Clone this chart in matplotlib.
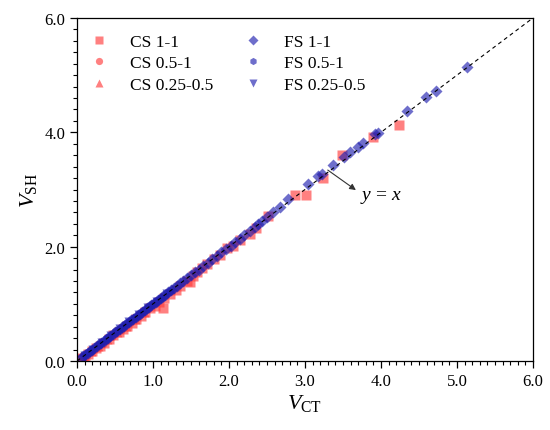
import numpy as np
import matplotlib.pyplot as plt
from matplotlib.ticker import MultipleLocator

plt.rcParams["font.family"] = "Liberation Serif"
plt.rcParams["mathtext.fontset"] = "custom"
plt.rcParams["mathtext.rm"] = "Liberation Serif"
plt.rcParams["mathtext.it"] = "Liberation Serif:italic"

# CS 1-1 (red squares)
cs11_x = [0.03, 0.07, 0.10, 0.15, 0.20, 0.25, 0.30, 0.36, 0.42, 0.48, 0.55, 0.60,
          0.66, 0.72, 0.78, 0.84, 0.90, 0.96, 1.02, 1.08, 1.13, 1.15, 1.22, 1.30,
          1.36, 1.45, 1.49, 1.52, 1.58, 1.64, 1.71, 1.80, 1.88, 1.97, 2.05, 2.15,
          2.28, 2.35, 2.51, 2.87, 3.02, 3.24, 3.49, 3.89, 4.24]
cs11_y = [0.05, 0.04, 0.07, 0.12, 0.17, 0.22, 0.27, 0.32, 0.38, 0.45, 0.50, 0.56,
          0.61, 0.66, 0.73, 0.79, 0.85, 0.92, 0.97, 1.03, 0.92, 1.10, 1.18, 1.25,
          1.32, 1.40, 1.38, 1.49, 1.55, 1.62, 1.70, 1.78, 1.85, 1.98, 2.02, 2.11,
          2.22, 2.33, 2.54, 2.90, 2.90, 3.20, 3.60, 3.92, 4.13]

# CS 0.5-1 (red circles) and CS 0.25-0.5 (red triangles)
cs05_x = [0.12, 0.22, 0.34, 0.46, 0.58, 0.70, 0.82, 0.94]
cs05_y = [0.11, 0.21, 0.32, 0.44, 0.56, 0.68, 0.80, 0.92]
cs025_x = [0.09, 0.18, 0.28, 0.40, 0.52, 0.64, 0.76, 0.88]
cs025_y = [0.08, 0.17, 0.27, 0.38, 0.50, 0.62, 0.74, 0.86]

# FS 1-1 (blue diamonds)
fs11_x = [0.05, 0.08, 0.11, 0.14, 0.17, 0.20, 0.23, 0.26, 0.29, 0.32, 0.35, 0.38,
          0.41, 0.44, 0.47, 0.50, 0.53, 0.56, 0.59, 0.62, 0.65, 0.68, 0.71, 0.74,
          0.77, 0.80, 0.83, 0.86, 0.89, 0.92, 0.95, 0.98, 1.01, 1.04, 1.07, 1.10,
          1.13, 1.16, 1.20, 1.24, 1.28, 1.32, 1.36, 1.40, 1.45, 1.50, 1.55, 1.60,
          1.66, 1.72, 1.78, 1.84, 1.90, 1.96, 2.02, 2.08, 2.14, 2.20, 2.27, 2.34,
          2.38, 2.44, 2.50, 2.58, 2.67, 2.78, 3.04, 3.17, 3.22, 3.37, 3.52, 3.59,
          3.70, 3.76, 3.92, 3.96, 4.34, 4.59, 4.72, 5.13]
fs11_y = [0.06, 0.08, 0.11, 0.14, 0.17, 0.20, 0.23, 0.26, 0.29, 0.32, 0.35, 0.38,
          0.41, 0.44, 0.47, 0.50, 0.53, 0.56, 0.59, 0.62, 0.65, 0.68, 0.71, 0.74,
          0.77, 0.80, 0.83, 0.86, 0.89, 0.92, 0.95, 0.98, 1.01, 1.04, 1.07, 1.10,
          1.13, 1.16, 1.20, 1.24, 1.28, 1.32, 1.36, 1.40, 1.45, 1.50, 1.55, 1.60,
          1.66, 1.72, 1.78, 1.84, 1.90, 1.96, 2.02, 2.08, 2.14, 2.20, 2.27, 2.34,
          2.40, 2.45, 2.52, 2.60, 2.69, 2.83, 3.09, 3.23, 3.27, 3.43, 3.56, 3.65,
          3.74, 3.81, 3.97, 3.99, 4.37, 4.61, 4.72, 5.14]

# FS 0.5-1 (blue hexagons) and FS 0.25-0.5 (blue down triangles)
fs05_x = [0.15, 0.27, 0.39, 0.51, 0.63, 0.75, 0.87, 0.99, 1.10, 1.22]
fs05_y = [0.16, 0.28, 0.40, 0.52, 0.64, 0.76, 0.88, 1.00, 1.11, 1.23]
fs025_x = [0.10, 0.21, 0.33, 0.45, 0.57, 0.69, 0.81, 0.93, 1.05, 1.18]
fs025_y = [0.09, 0.20, 0.32, 0.44, 0.56, 0.68, 0.80, 0.92, 1.04, 1.17]

red = "#ff3c3c"
blue = "#2020b0"

fig = plt.figure(figsize=(5.5, 4.31), dpi=100)
ax = fig.add_axes([0.14, 0.16, 0.829, 0.796])

kw = dict(ls="none", ms=6.5, alpha=0.65, mec="none", zorder=2)
ax.plot(cs11_x, cs11_y, "s", color=red, label="CS 1-1", **kw)
ax.plot(cs05_x, cs05_y, "o", color=red, label="CS 0.5-1", **kw)
ax.plot(cs025_x, cs025_y, "^", color=red, label="CS 0.25-0.5", **kw)
ax.plot(fs11_x, fs11_y, "D", color=blue, label="FS 1-1", **dict(kw, ms=6))
ax.plot(fs05_x, fs05_y, "h", color=blue, label="FS 0.5-1", **kw)
ax.plot(fs025_x, fs025_y, "v", color=blue, label="FS 0.25-0.5", **kw)

# y = x reference line, drawn above the markers
ax.plot([0, 6], [0, 6], ls=(0, (3.5, 3)), color="black", lw=0.8, zorder=3)

ax.annotate("", xy=(3.67, 2.99), xytext=(3.30, 3.34),
            arrowprops=dict(arrowstyle="-|>", color="#333333", lw=0.8,
                            shrinkA=0, shrinkB=0, mutation_scale=9))
ax.text(3.72, 2.87, r"$y\,=\,x$", fontsize=14, va="center", ha="left")

ax.set_xlim(0, 6)
ax.set_ylim(0, 6)
ax.xaxis.set_major_locator(MultipleLocator(1.0))
ax.xaxis.set_minor_locator(MultipleLocator(0.1))
ax.yaxis.set_major_locator(MultipleLocator(2.0))
ax.yaxis.set_minor_locator(MultipleLocator(0.2))
ax.xaxis.set_major_formatter(lambda v, p: f"{v:.1f}")
ax.yaxis.set_major_formatter(lambda v, p: f"{v:.1f}")
ax.tick_params(which="major", direction="out", length=5, width=0.9, labelsize=12)
ax.tick_params(which="minor", direction="out", length=3, width=0.8)
for s in ax.spines.values():
    s.set_linewidth(0.9)

ax.set_xlabel(r"$V_{\mathrm{CT}}$", fontsize=16, labelpad=2)
ax.set_ylabel(r"$V_{\mathrm{SH}}$", fontsize=16, labelpad=4)

ax.legend(loc="upper left", bbox_to_anchor=(0.002, 0.974), ncol=2,
          frameon=False, fontsize=12.5, handlelength=1.6, handletextpad=1.0,
          columnspacing=1.5, labelspacing=0.3, markerscale=0.8,
          borderaxespad=0, borderpad=0.4)

fig.savefig("out.png", dpi=100)
